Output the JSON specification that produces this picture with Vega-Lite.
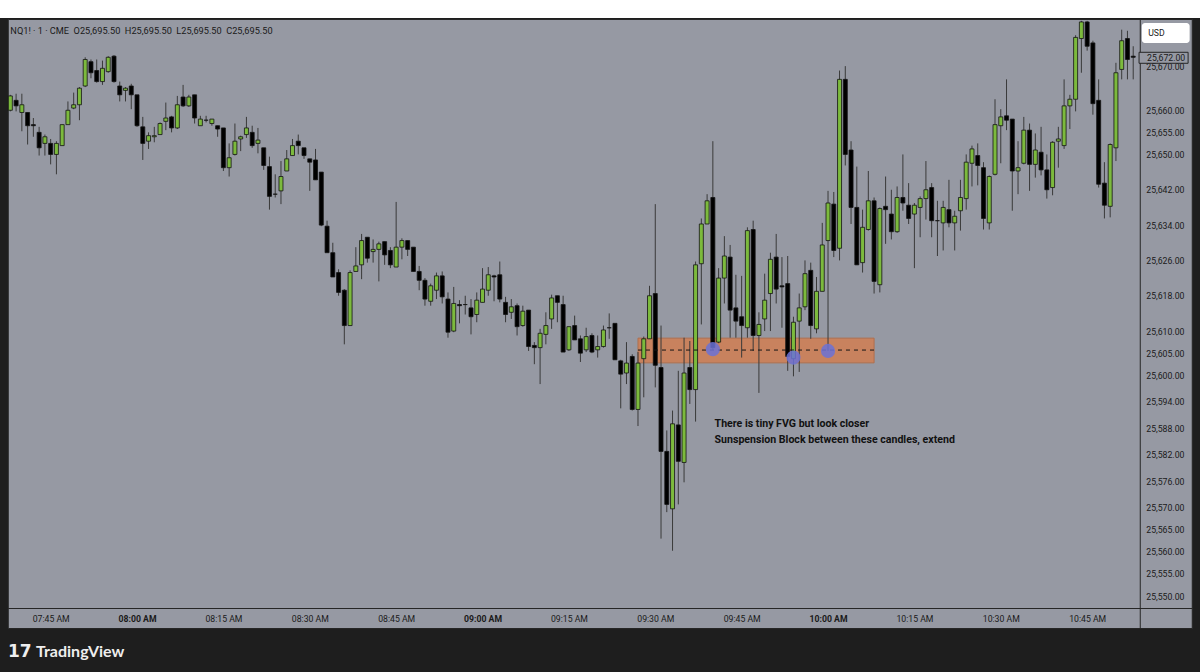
{
"$schema": "https://vega.github.io/schema/vega-lite/v6.json",
"background": "#1e1e1e",
"padding": 0,
"spacing": 0,
"center": true,
"datasets": {
"candles": [
{"t":"2025-01-02T07:38","o":25660.0,"h":25663.5,"l":25659.75,"c":25663.25},
{"t":"2025-01-02T07:39","o":25662.25,"h":25663.75,"l":25659.75,"c":25661.0},
{"t":"2025-01-02T07:40","o":25659.5,"h":25663.75,"l":25655.25,"c":25661.25},
{"t":"2025-01-02T07:41","o":25659.5,"h":25659.5,"l":25652.25,"c":25656.5},
{"t":"2025-01-02T07:42","o":25656.75,"h":25658.25,"l":25654.0,"c":25656.5},
{"t":"2025-01-02T07:43","o":25655.0,"h":25656.25,"l":25649.75,"c":25651.5},
{"t":"2025-01-02T07:44","o":25652.5,"h":25654.5,"l":25649.75,"c":25654.0},
{"t":"2025-01-02T07:45","o":25652.5,"h":25653.5,"l":25647.75,"c":25650.0},
{"t":"2025-01-02T07:46","o":25650.0,"h":25653.0,"l":25645.5,"c":25652.5},
{"t":"2025-01-02T07:47","o":25652.0,"h":25656.75,"l":25652.0,"c":25656.75},
{"t":"2025-01-02T07:48","o":25656.75,"h":25662.0,"l":25656.75,"c":25660.0},
{"t":"2025-01-02T07:49","o":25660.5,"h":25664.0,"l":25660.25,"c":25661.25},
{"t":"2025-01-02T07:50","o":25661.25,"h":25665.25,"l":25657.75,"c":25665.0},
{"t":"2025-01-02T07:51","o":25665.5,"h":25672.0,"l":25665.25,"c":25671.5},
{"t":"2025-01-02T07:52","o":25671.0,"h":25671.5,"l":25667.25,"c":25668.5},
{"t":"2025-01-02T07:53","o":25669.0,"h":25671.5,"l":25666.25,"c":25666.5},
{"t":"2025-01-02T07:54","o":25666.5,"h":25671.25,"l":25665.75,"c":25669.5},
{"t":"2025-01-02T07:55","o":25668.75,"h":25672.25,"l":25668.5,"c":25672.0},
{"t":"2025-01-02T07:56","o":25672.25,"h":25672.5,"l":25666.25,"c":25666.5},
{"t":"2025-01-02T07:57","o":25665.5,"h":25666.5,"l":25662.0,"c":25663.5},
{"t":"2025-01-02T07:58","o":25664.5,"h":25665.25,"l":25662.0,"c":25665.0},
{"t":"2025-01-02T07:59","o":25665.5,"h":25666.0,"l":25660.25,"c":25663.5},
{"t":"2025-01-02T08:00","o":25663.5,"h":25663.5,"l":25656.25,"c":25656.5},
{"t":"2025-01-02T08:01","o":25656.25,"h":25658.5,"l":25648.75,"c":25652.5},
{"t":"2025-01-02T08:02","o":25653.0,"h":25655.0,"l":25651.25,"c":25654.25},
{"t":"2025-01-02T08:03","o":25654.0,"h":25656.25,"l":25652.75,"c":25654.25},
{"t":"2025-01-02T08:04","o":25654.5,"h":25657.25,"l":25654.5,"c":25657.0},
{"t":"2025-01-02T08:05","o":25657.5,"h":25661.75,"l":25655.5,"c":25658.25},
{"t":"2025-01-02T08:06","o":25658.5,"h":25658.75,"l":25655.0,"c":25656.0},
{"t":"2025-01-02T08:07","o":25656.0,"h":25663.25,"l":25655.75,"c":25661.25},
{"t":"2025-01-02T08:08","o":25663.0,"h":25665.75,"l":25660.75,"c":25661.0},
{"t":"2025-01-02T08:09","o":25661.0,"h":25663.5,"l":25660.75,"c":25663.0},
{"t":"2025-01-02T08:10","o":25663.5,"h":25663.5,"l":25657.0,"c":25658.25},
{"t":"2025-01-02T08:11","o":25656.5,"h":25658.75,"l":25656.5,"c":25658.0},
{"t":"2025-01-02T08:12","o":25657.75,"h":25658.75,"l":25657.25,"c":25657.75},
{"t":"2025-01-02T08:13","o":25657.0,"h":25658.0,"l":25656.5,"c":25658.0},
{"t":"2025-01-02T08:14","o":25656.5,"h":25656.5,"l":25654.0,"c":25655.75},
{"t":"2025-01-02T08:15","o":25656.0,"h":25656.0,"l":25646.25,"c":25647.0},
{"t":"2025-01-02T08:16","o":25647.0,"h":25652.5,"l":25645.0,"c":25649.25},
{"t":"2025-01-02T08:17","o":25650.0,"h":25657.0,"l":25649.75,"c":25653.0},
{"t":"2025-01-02T08:18","o":25653.5,"h":25654.25,"l":25650.75,"c":25654.0},
{"t":"2025-01-02T08:19","o":25654.5,"h":25658.5,"l":25653.75,"c":25656.0},
{"t":"2025-01-02T08:20","o":25655.0,"h":25656.5,"l":25651.5,"c":25652.0},
{"t":"2025-01-02T08:21","o":25652.5,"h":25656.0,"l":25650.25,"c":25653.25},
{"t":"2025-01-02T08:22","o":25651.5,"h":25651.5,"l":25646.5,"c":25647.5},
{"t":"2025-01-02T08:23","o":25647.25,"h":25649.5,"l":25637.5,"c":25640.5},
{"t":"2025-01-02T08:24","o":25641.0,"h":25645.5,"l":25640.25,"c":25641.0},
{"t":"2025-01-02T08:25","o":25641.75,"h":25648.5,"l":25638.75,"c":25645.0},
{"t":"2025-01-02T08:26","o":25646.25,"h":25651.0,"l":25646.25,"c":25649.0},
{"t":"2025-01-02T08:27","o":25649.75,"h":25653.5,"l":25649.75,"c":25652.0},
{"t":"2025-01-02T08:28","o":25653.0,"h":25654.5,"l":25650.0,"c":25652.0},
{"t":"2025-01-02T08:29","o":25651.5,"h":25651.5,"l":25649.0,"c":25649.75},
{"t":"2025-01-02T08:30","o":25649.0,"h":25649.0,"l":25641.75,"c":25648.25},
{"t":"2025-01-02T08:31","o":25648.75,"h":25651.25,"l":25644.25,"c":25644.25},
{"t":"2025-01-02T08:32","o":25646.0,"h":25646.0,"l":25633.75,"c":25634.0},
{"t":"2025-01-02T08:33","o":25633.75,"h":25635.0,"l":25627.75,"c":25627.75},
{"t":"2025-01-02T08:34","o":25627.75,"h":25630.0,"l":25622.25,"c":25622.25},
{"t":"2025-01-02T08:35","o":25623.25,"h":25624.0,"l":25618.0,"c":25618.75},
{"t":"2025-01-02T08:36","o":25619.25,"h":25619.5,"l":25607.0,"c":25611.25},
{"t":"2025-01-02T08:37","o":25611.25,"h":25623.75,"l":25611.25,"c":25623.25},
{"t":"2025-01-02T08:38","o":25623.5,"h":25629.0,"l":25623.5,"c":25624.75},
{"t":"2025-01-02T08:39","o":25625.0,"h":25632.0,"l":25621.75,"c":25630.5},
{"t":"2025-01-02T08:40","o":25631.25,"h":25631.25,"l":25625.5,"c":25626.5},
{"t":"2025-01-02T08:41","o":25628.0,"h":25630.75,"l":25625.5,"c":25628.5},
{"t":"2025-01-02T08:42","o":25628.5,"h":25630.25,"l":25621.25,"c":25629.75},
{"t":"2025-01-02T08:43","o":25630.25,"h":25630.25,"l":25625.0,"c":25627.25},
{"t":"2025-01-02T08:44","o":25628.25,"h":25629.0,"l":25624.25,"c":25625.0},
{"t":"2025-01-02T08:45","o":25624.5,"h":25639.25,"l":25624.5,"c":25629.0},
{"t":"2025-01-02T08:46","o":25629.0,"h":25631.0,"l":25626.25,"c":25630.5},
{"t":"2025-01-02T08:47","o":25630.5,"h":25630.5,"l":25627.0,"c":25628.5},
{"t":"2025-01-02T08:48","o":25629.0,"h":25629.0,"l":25623.5,"c":25623.5},
{"t":"2025-01-02T08:49","o":25623.5,"h":25624.75,"l":25619.25,"c":25621.5},
{"t":"2025-01-02T08:50","o":25621.5,"h":25622.0,"l":25615.75,"c":25617.25},
{"t":"2025-01-02T08:51","o":25616.75,"h":25620.75,"l":25615.75,"c":25620.25},
{"t":"2025-01-02T08:52","o":25619.25,"h":25623.25,"l":25617.25,"c":25622.5},
{"t":"2025-01-02T08:53","o":25622.5,"h":25623.5,"l":25616.25,"c":25617.75},
{"t":"2025-01-02T08:54","o":25617.25,"h":25618.75,"l":25608.5,"c":25609.75},
{"t":"2025-01-02T08:55","o":25610.0,"h":25620.0,"l":25609.75,"c":25616.25},
{"t":"2025-01-02T08:56","o":25616.0,"h":25617.0,"l":25611.75,"c":25615.75},
{"t":"2025-01-02T08:57","o":25616.0,"h":25618.0,"l":25613.75,"c":25616.0},
{"t":"2025-01-02T08:58","o":25615.25,"h":25617.25,"l":25609.25,"c":25613.25},
{"t":"2025-01-02T08:59","o":25613.75,"h":25618.75,"l":25612.0,"c":25617.0},
{"t":"2025-01-02T09:00","o":25616.5,"h":25624.25,"l":25616.5,"c":25619.5},
{"t":"2025-01-02T09:01","o":25619.25,"h":25624.5,"l":25618.0,"c":25622.75},
{"t":"2025-01-02T09:02","o":25622.5,"h":25622.75,"l":25616.75,"c":25622.25},
{"t":"2025-01-02T09:03","o":25622.75,"h":25625.75,"l":25616.5,"c":25617.25},
{"t":"2025-01-02T09:04","o":25616.5,"h":25617.75,"l":25612.0,"c":25613.75},
{"t":"2025-01-02T09:05","o":25614.25,"h":25617.25,"l":25612.75,"c":25615.5},
{"t":"2025-01-02T09:06","o":25615.75,"h":25616.25,"l":25609.0,"c":25611.0},
{"t":"2025-01-02T09:07","o":25611.25,"h":25615.75,"l":25611.0,"c":25614.5},
{"t":"2025-01-02T09:08","o":25614.75,"h":25614.75,"l":25605.5,"c":25606.5},
{"t":"2025-01-02T09:09","o":25606.75,"h":25607.5,"l":25602.5,"c":25606.25},
{"t":"2025-01-02T09:10","o":25606.25,"h":25610.5,"l":25598.0,"c":25609.5},
{"t":"2025-01-02T09:11","o":25609.25,"h":25614.25,"l":25607.0,"c":25611.25},
{"t":"2025-01-02T09:12","o":25612.75,"h":25618.25,"l":25610.5,"c":25617.5},
{"t":"2025-01-02T09:13","o":25618.0,"h":25618.0,"l":25612.0,"c":25616.5},
{"t":"2025-01-02T09:14","o":25616.0,"h":25618.0,"l":25605.25,"c":25605.25},
{"t":"2025-01-02T09:15","o":25605.75,"h":25611.0,"l":25605.5,"c":25611.0},
{"t":"2025-01-02T09:16","o":25611.25,"h":25613.5,"l":25608.0,"c":25608.0},
{"t":"2025-01-02T09:17","o":25608.25,"h":25609.0,"l":25603.0,"c":25605.0},
{"t":"2025-01-02T09:18","o":25605.75,"h":25610.75,"l":25605.25,"c":25608.75},
{"t":"2025-01-02T09:19","o":25609.0,"h":25609.5,"l":25605.0,"c":25605.25},
{"t":"2025-01-02T09:20","o":25605.75,"h":25609.0,"l":25604.0,"c":25606.5},
{"t":"2025-01-02T09:21","o":25606.5,"h":25611.25,"l":25606.25,"c":25610.25},
{"t":"2025-01-02T09:22","o":25610.75,"h":25614.0,"l":25608.25,"c":25610.75},
{"t":"2025-01-02T09:23","o":25611.75,"h":25611.75,"l":25603.5,"c":25603.5},
{"t":"2025-01-02T09:24","o":25603.25,"h":25603.5,"l":25592.5,"c":25600.25},
{"t":"2025-01-02T09:25","o":25600.5,"h":25607.5,"l":25598.0,"c":25602.75},
{"t":"2025-01-02T09:26","o":25604.25,"h":25604.75,"l":25592.0,"c":25592.25},
{"t":"2025-01-02T09:27","o":25592.25,"h":25605.25,"l":25588.5,"c":25602.75},
{"t":"2025-01-02T09:28","o":25603.75,"h":25608.75,"l":25595.0,"c":25608.25},
{"t":"2025-01-02T09:29","o":25608.25,"h":25620.25,"l":25608.25,"c":25618.0},
{"t":"2025-01-02T09:30","o":25618.5,"h":25638.75,"l":25597.25,"c":25602.25},
{"t":"2025-01-02T09:31","o":25601.75,"h":25611.25,"l":25563.0,"c":25582.75},
{"t":"2025-01-02T09:32","o":25582.75,"h":25587.5,"l":25569.0,"c":25570.75},
{"t":"2025-01-02T09:33","o":25569.75,"h":25592.0,"l":25560.25,"c":25589.0},
{"t":"2025-01-02T09:34","o":25588.75,"h":25601.0,"l":25570.75,"c":25580.5},
{"t":"2025-01-02T09:35","o":25580.25,"h":25608.5,"l":25575.75,"c":25600.5},
{"t":"2025-01-02T09:36","o":25601.75,"h":25607.75,"l":25593.5,"c":25596.75},
{"t":"2025-01-02T09:37","o":25596.75,"h":25625.75,"l":25589.5,"c":25625.0},
{"t":"2025-01-02T09:38","o":25625.25,"h":25635.5,"l":25611.5,"c":25634.25},
{"t":"2025-01-02T09:39","o":25634.25,"h":25641.0,"l":25634.25,"c":25639.5},
{"t":"2025-01-02T09:40","o":25640.25,"h":25653.0,"l":25605.75,"c":25606.25},
{"t":"2025-01-02T09:41","o":25607.5,"h":25624.25,"l":25607.25,"c":25622.0},
{"t":"2025-01-02T09:42","o":25622.0,"h":25631.5,"l":25616.25,"c":25627.0},
{"t":"2025-01-02T09:43","o":25626.75,"h":25629.5,"l":25608.5,"c":25614.75},
{"t":"2025-01-02T09:44","o":25615.25,"h":25622.75,"l":25608.5,"c":25612.25},
{"t":"2025-01-02T09:45","o":25613.25,"h":25622.5,"l":25604.0,"c":25611.25},
{"t":"2025-01-02T09:46","o":25610.75,"h":25633.5,"l":25608.5,"c":25632.75},
{"t":"2025-01-02T09:47","o":25633.0,"h":25635.0,"l":25605.5,"c":25609.0},
{"t":"2025-01-02T09:48","o":25609.0,"h":25614.25,"l":25596.0,"c":25611.5},
{"t":"2025-01-02T09:49","o":25612.75,"h":25623.0,"l":25610.0,"c":25617.0},
{"t":"2025-01-02T09:50","o":25618.5,"h":25627.75,"l":25610.0,"c":25626.25},
{"t":"2025-01-02T09:51","o":25626.75,"h":25632.0,"l":25616.25,"c":25619.5},
{"t":"2025-01-02T09:52","o":25620.25,"h":25626.75,"l":25610.75,"c":25620.0},
{"t":"2025-01-02T09:53","o":25620.75,"h":25627.0,"l":25601.0,"c":25604.25},
{"t":"2025-01-02T09:54","o":25603.75,"h":25613.25,"l":25599.75,"c":25612.0},
{"t":"2025-01-02T09:55","o":25612.25,"h":25618.5,"l":25600.75,"c":25615.25},
{"t":"2025-01-02T09:56","o":25615.5,"h":25626.0,"l":25614.75,"c":25623.0},
{"t":"2025-01-02T09:57","o":25623.75,"h":25625.5,"l":25608.25,"c":25611.25},
{"t":"2025-01-02T09:58","o":25610.5,"h":25622.25,"l":25609.5,"c":25619.0},
{"t":"2025-01-02T09:59","o":25619.0,"h":25634.5,"l":25619.0,"c":25629.5},
{"t":"2025-01-02T10:00","o":25630.5,"h":25641.75,"l":25605.5,"c":25639.0},
{"t":"2025-01-02T10:01","o":25638.75,"h":25641.5,"l":25626.75,"c":25628.25},
{"t":"2025-01-02T10:02","o":25628.75,"h":25669.0,"l":25626.0,"c":25667.0},
{"t":"2025-01-02T10:03","o":25667.0,"h":25670.0,"l":25647.5,"c":25650.0},
{"t":"2025-01-02T10:04","o":25651.0,"h":25653.0,"l":25634.25,"c":25638.0},
{"t":"2025-01-02T10:05","o":25638.0,"h":25647.25,"l":25625.0,"c":25625.0},
{"t":"2025-01-02T10:06","o":25625.5,"h":25637.5,"l":25623.25,"c":25633.5},
{"t":"2025-01-02T10:07","o":25633.0,"h":25646.25,"l":25632.75,"c":25639.5},
{"t":"2025-01-02T10:08","o":25639.5,"h":25640.25,"l":25618.5,"c":25621.25},
{"t":"2025-01-02T10:09","o":25620.5,"h":25638.0,"l":25618.75,"c":25637.75},
{"t":"2025-01-02T10:10","o":25638.25,"h":25645.0,"l":25629.75,"c":25637.5},
{"t":"2025-01-02T10:11","o":25636.5,"h":25642.0,"l":25630.75,"c":25632.5},
{"t":"2025-01-02T10:12","o":25632.5,"h":25642.75,"l":25632.25,"c":25640.25},
{"t":"2025-01-02T10:13","o":25640.25,"h":25650.0,"l":25637.25,"c":25639.0},
{"t":"2025-01-02T10:14","o":25638.5,"h":25643.5,"l":25634.25,"c":25635.5},
{"t":"2025-01-02T10:15","o":25636.5,"h":25639.0,"l":25624.25,"c":25638.5},
{"t":"2025-01-02T10:16","o":25638.0,"h":25640.5,"l":25631.25,"c":25640.0},
{"t":"2025-01-02T10:17","o":25640.0,"h":25648.5,"l":25635.25,"c":25642.0},
{"t":"2025-01-02T10:18","o":25642.5,"h":25643.5,"l":25631.25,"c":25635.0},
{"t":"2025-01-02T10:19","o":25635.0,"h":25639.5,"l":25627.0,"c":25635.0},
{"t":"2025-01-02T10:20","o":25634.5,"h":25639.5,"l":25628.25,"c":25638.0},
{"t":"2025-01-02T10:21","o":25637.5,"h":25644.25,"l":25633.5,"c":25634.5},
{"t":"2025-01-02T10:22","o":25634.5,"h":25637.25,"l":25628.25,"c":25636.0},
{"t":"2025-01-02T10:23","o":25637.25,"h":25644.25,"l":25632.75,"c":25640.25},
{"t":"2025-01-02T10:24","o":25640.0,"h":25650.0,"l":25637.5,"c":25648.25},
{"t":"2025-01-02T10:25","o":25648.0,"h":25652.0,"l":25642.75,"c":25651.25},
{"t":"2025-01-02T10:26","o":25649.75,"h":25652.5,"l":25643.0,"c":25647.5},
{"t":"2025-01-02T10:27","o":25647.0,"h":25648.25,"l":25633.0,"c":25635.5},
{"t":"2025-01-02T10:28","o":25634.5,"h":25645.25,"l":25633.0,"c":25645.0},
{"t":"2025-01-02T10:29","o":25645.5,"h":25662.5,"l":25645.25,"c":25656.75},
{"t":"2025-01-02T10:30","o":25656.5,"h":25660.25,"l":25648.0,"c":25658.5},
{"t":"2025-01-02T10:31","o":25658.75,"h":25667.0,"l":25655.5,"c":25657.75},
{"t":"2025-01-02T10:32","o":25658.0,"h":25658.0,"l":25637.25,"c":25646.25},
{"t":"2025-01-02T10:33","o":25646.25,"h":25653.0,"l":25641.0,"c":25647.0},
{"t":"2025-01-02T10:34","o":25648.0,"h":25658.5,"l":25647.75,"c":25655.5},
{"t":"2025-01-02T10:35","o":25655.5,"h":25657.0,"l":25641.75,"c":25647.75},
{"t":"2025-01-02T10:36","o":25647.75,"h":25654.75,"l":25644.75,"c":25651.0},
{"t":"2025-01-02T10:37","o":25650.5,"h":25656.25,"l":25645.25,"c":25646.5},
{"t":"2025-01-02T10:38","o":25646.5,"h":25650.0,"l":25640.0,"c":25642.0},
{"t":"2025-01-02T10:39","o":25642.5,"h":25653.0,"l":25640.75,"c":25652.75},
{"t":"2025-01-02T10:40","o":25653.0,"h":25656.25,"l":25647.0,"c":25653.5},
{"t":"2025-01-02T10:41","o":25652.0,"h":25667.0,"l":25651.25,"c":25661.0},
{"t":"2025-01-02T10:42","o":25661.0,"h":25663.5,"l":25655.75,"c":25662.5},
{"t":"2025-01-02T10:43","o":25662.5,"h":25677.0,"l":25659.75,"c":25676.5},
{"t":"2025-01-02T10:44","o":25676.25,"h":25680.25,"l":25668.5,"c":25680.0},
{"t":"2025-01-02T10:45","o":25680.0,"h":25680.25,"l":25673.5,"c":25674.5},
{"t":"2025-01-02T10:46","o":25675.25,"h":25675.75,"l":25659.0,"c":25661.5},
{"t":"2025-01-02T10:47","o":25662.25,"h":25667.0,"l":25642.5,"c":25643.25},
{"t":"2025-01-02T10:48","o":25643.5,"h":25648.25,"l":25635.5,"c":25638.5},
{"t":"2025-01-02T10:49","o":25638.25,"h":25652.5,"l":25635.75,"c":25652.25},
{"t":"2025-01-02T10:50","o":25651.5,"h":25670.75,"l":25648.5,"c":25668.5},
{"t":"2025-01-02T10:51","o":25669.25,"h":25678.25,"l":25667.0,"c":25675.75},
{"t":"2025-01-02T10:52","o":25676.25,"h":25678.0,"l":25667.0,"c":25671.5},
{"t":"2025-01-02T10:53","o":25672.25,"h":25674.5,"l":25667.0,"c":25672.0}
],
"zone": [{"t1":"2025-01-02T09:27","t2":"2025-01-02T10:08","p1":25608.4,"p2":25602.8,"mid":25605.7}],
"dots": [
{"t":"2025-01-02T09:40","p":25605.9},
{"t":"2025-01-02T09:54","p":25604.0},
{"t":"2025-01-02T10:00","p":25605.5}
],
"notes": [
{"t":"2025-01-02T09:40:18","p":25588.96,"label":"There is tiny FVG but look closer"},
{"t":"2025-01-02T09:40:18","p":25585.3,"label":"Sunspension Block between these candles, extend"}
]
},
"vconcat": [
{
"width": 1200, "height": 18,
"view": {"fill": "#ffffff", "stroke": null},
"data": {"values": [{}]},
"mark": {"type": "text"},
"encoding": {"text": {"value": ""}}
},
{
"width": 1184, "height": 609,
"view": {"fill": "#9699a3", "stroke": "#262626", "strokeWidth": 1},
"layer": [
{
"data": {"name": "zone"},
"mark": {"type": "rect", "fill": "#c8825e", "stroke": "#b06f4d", "strokeWidth": 1},
"encoding": {
"x": {"field": "t1", "type": "temporal",
 "scale": {"padding": 0, "domain": [{"year":2025,"month":1,"date":2,"hours":7,"minutes":37,"seconds":33},{"year":2025,"month":1,"date":2,"hours":11,"minutes":3,"seconds":10}]},
 "axis": {"orient": "bottom", "offset": -20, "title": null, "grid": false, "ticks": false, "tickSize": 0, "labelPadding": 6, "tickCount": 40,
  "values": [
   {"year":2025,"month":1,"date":2,"hours":7,"minutes":45},
   {"year":2025,"month":1,"date":2,"hours":8,"minutes":0},
   {"year":2025,"month":1,"date":2,"hours":8,"minutes":15},
   {"year":2025,"month":1,"date":2,"hours":8,"minutes":30},
   {"year":2025,"month":1,"date":2,"hours":8,"minutes":45},
   {"year":2025,"month":1,"date":2,"hours":9,"minutes":0},
   {"year":2025,"month":1,"date":2,"hours":9,"minutes":15},
   {"year":2025,"month":1,"date":2,"hours":9,"minutes":30},
   {"year":2025,"month":1,"date":2,"hours":9,"minutes":45},
   {"year":2025,"month":1,"date":2,"hours":10,"minutes":0},
   {"year":2025,"month":1,"date":2,"hours":10,"minutes":15},
   {"year":2025,"month":1,"date":2,"hours":10,"minutes":30},
   {"year":2025,"month":1,"date":2,"hours":10,"minutes":45}
  ],
  "format": "%I:%M %p", "labelFont": "Roboto", "labelFontSize": 8.7, "labelColor": "#1a1a1a",
  "labelFontWeight": {"condition": {"test": "minutes(datum.value) === 0", "value": "bold"}, "value": "normal"},
  "labelOverlap": false, "labelFlush": false, "domainColor": "#262626", "domainWidth": 1}},
"x2": {"field": "t2"},
"y": {"field": "p1", "type": "quantitative",
 "scale": {"domain": [25542.76, 25680.67], "nice": false, "zero": false, "padding": 0},
 "axis": {"orient": "right", "offset": -52, "title": null, "grid": false, "ticks": false, "tickSize": 0, "labelPadding": 6, "labelAlign": "left", "tickCount": 60,
  "values": [25550,25555,25560,25565,25570,25576,25582,25588,25594,25600,25605,25610,25618,25626,25634,25642,25650,25655,25660,25670],
  "format": ",.2f", "labelFont": "Roboto", "labelFontSize": 8.7, "labelColor": "#1a1a1a",
  "labelOverlap": false, "labelFlush": false, "domainColor": "#262626", "domainWidth": 1}},
"y2": {"field": "p2"}
}
},
{
"data": {"name": "candles"},
"mark": {"type": "rule", "color": "#3a3a3a", "strokeWidth": 1},
"encoding": {
"x": {"field": "t", "type": "temporal"},
"y": {"field": "l", "type": "quantitative"},
"y2": {"field": "h"}
}
},
{
"data": {"name": "candles"},
"mark": {"type": "bar", "size": 4, "stroke": "#141414", "strokeWidth": 0.8},
"encoding": {
"x": {"field": "t", "type": "temporal"},
"y": {"field": "o", "type": "quantitative"},
"y2": {"field": "c"},
"fill": {"condition": {"test": "datum.c >= datum.o", "value": "#7cba3d"}, "value": "#000000"}
}
},
{
"data": {"name": "zone"},
"mark": {"type": "rule", "color": "#151515", "strokeWidth": 1, "strokeDash": [4, 4]},
"encoding": {
"x": {"field": "t1", "type": "temporal"},
"x2": {"field": "t2"},
"y": {"field": "mid", "type": "quantitative"}
}
},
{
"data": {"name": "dots"},
"mark": {"type": "circle", "size": 200, "color": "#6b72d6", "opacity": 0.85},
"encoding": {
"x": {"field": "t", "type": "temporal"},
"y": {"field": "p", "type": "quantitative"}
}
},
{
"data": {"name": "notes"},
"mark": {"type": "text", "align": "left", "baseline": "middle", "font": "Roboto", "fontSize": 10.6, "fontWeight": "bold", "color": "#111111"},
"encoding": {
"x": {"field": "t", "type": "temporal"},
"y": {"field": "p", "type": "quantitative"},
"text": {"field": "label"}
}
},
{
"data": {"values": [{"label": "NQ1! · 1 · CME\u00a0\u00a0O25,695.50\u00a0\u00a0H25,695.50\u00a0\u00a0L25,695.50\u00a0\u00a0C25,695.50"}]},
"mark": {"type": "text", "align": "left", "baseline": "middle", "font": "Roboto", "fontSize": 9.2, "color": "#1a1a1a"},
"encoding": {
"x": {"datum": {"year":2025,"month":1,"date":2,"hours":7,"minutes":38,"seconds":0}, "type": "temporal"},
"y": {"datum": 25677.96, "type": "quantitative"},
"text": {"field": "label"}
}
},
{
"data": {"values": [{}]},
"mark": {"type": "rect", "fill": "#ffffff", "cornerRadius": 3},
"encoding": {
"x": {"datum": {"year":2025,"month":1,"date":2,"hours":10,"minutes":54,"seconds":30}, "type": "temporal"},
"x2": {"datum": {"year":2025,"month":1,"date":2,"hours":11,"minutes":2,"seconds":48}},
"y": {"datum": 25679.77, "type": "quantitative"},
"y2": {"datum": 25675.24}
}
},
{
"data": {"values": [{"label": "USD"}]},
"mark": {"type": "text", "align": "left", "baseline": "middle", "font": "Roboto", "fontSize": 8.7, "color": "#1a1a1a"},
"encoding": {
"x": {"datum": {"year":2025,"month":1,"date":2,"hours":10,"minutes":55,"seconds":36}, "type": "temporal"},
"y": {"datum": 25677.5, "type": "quantitative"},
"text": {"field": "label"}
}
},
{
"data": {"values": [{}]},
"mark": {"type": "rect", "fill": "#9699a3", "stroke": "#262626", "strokeWidth": 1},
"encoding": {
"x": {"datum": {"year":2025,"month":1,"date":2,"hours":10,"minutes":54,"seconds":1}, "type": "temporal"},
"x2": {"datum": {"year":2025,"month":1,"date":2,"hours":11,"minutes":2,"seconds":32}},
"y": {"datum": 25673.13, "type": "quantitative"},
"y2": {"datum": 25670.64}
}
},
{
"data": {"values": [{"label": "25,672.00"}]},
"mark": {"type": "text", "align": "left", "baseline": "middle", "font": "Roboto", "fontSize": 8.7, "color": "#1a1a1a"},
"encoding": {
"x": {"datum": {"year":2025,"month":1,"date":2,"hours":10,"minutes":55,"seconds":24}, "type": "temporal"},
"y": {"datum": 25671.9, "type": "quantitative"},
"text": {"field": "label"}
}
}
]
},
{
"width": 1200, "height": 45,
"view": {"fill": "#1e1e1e", "stroke": null},
"layer": [
{
"data": {"values": [{"label": "17"}]},
"mark": {"type": "text", "align": "left", "baseline": "middle", "font": "DejaVu Sans", "fontSize": 17, "fontWeight": "bold", "color": "#eeeeee"},
"encoding": {
"x": {"datum": 8, "type": "quantitative", "scale": {"domain": [0, 1200]}, "axis": null},
"y": {"datum": 22, "type": "quantitative", "scale": {"domain": [0, 45]}, "axis": null},
"text": {"field": "label"}
}
},
{
"data": {"values": [{"label": "TradingView"}]},
"mark": {"type": "text", "align": "left", "baseline": "middle", "font": "Lato", "fontSize": 16, "fontWeight": "bold", "color": "#eeeeee"},
"encoding": {
"x": {"datum": 36, "type": "quantitative"},
"y": {"datum": 22, "type": "quantitative"},
"text": {"field": "label"}
}
}
]
}
]
}
